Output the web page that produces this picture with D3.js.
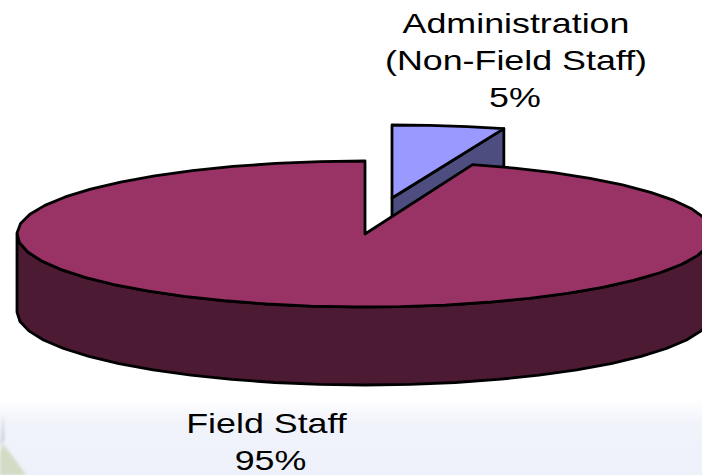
<!DOCTYPE html>
<html>
<head>
<meta charset="utf-8">
<script src="https://cdn.jsdelivr.net/npm/d3@7"></script>
<style>
html, body { margin: 0; padding: 0; background: #fff; }
svg { display: block; }
text { font-family: "Liberation Sans", Arial, sans-serif; font-size: 28px; fill: #000; }
</style>
</head>
<body>
<div id="chart"></div>
<script>
var categories = ['Administration', 'Field Staff'];
var values = [5, 95];
var adminLabel = ['Administration', '(Non-Field Staff)', '5%'];
var fieldLabel = ['Field Staff', '95%'];

var width = 702, height = 475;
var cx = 365, cy = 234, rx = 348, ry = 73, depth = 78;
var explode = { x: 27, y: -36 };
var stroke = 2.8;

var svg = d3.select('#chart').append('svg')
    .attr('width', width)
    .attr('height', height);

var defs = svg.append('defs');
var grad = defs.append('linearGradient')
    .attr('id', 'bg-fade')
    .attr('x1', 0).attr('y1', 0)
    .attr('x2', 0).attr('y2', 1);
grad.append('stop').attr('offset', '0%').attr('stop-color', '#ffffff');
grad.append('stop').attr('offset', '30%').attr('stop-color', '#f1f3fb');
grad.append('stop').attr('offset', '100%').attr('stop-color', '#eef1fa');

defs.append('filter')
    .attr('id', 'soft')
    .append('feGaussianBlur')
    .attr('stdDeviation', 1.5);

svg.append('rect')
    .attr('x', 0).attr('y', 400)
    .attr('width', width).attr('height', 75)
    .attr('fill', 'url(#bg-fade)');

// blurry leaf left over from the slide background
svg.append('path')
    .attr('d', 'M3,414L5,440L0,446Z')
    .attr('fill', '#d4d6dc')
    .attr('filter', 'url(#soft)');
svg.append('path')
    .attr('d', 'M3,444L14,458L26,475L0,475L0,452Z')
    .attr('fill', '#d3dbc4')
    .attr('filter', 'url(#soft)');

var arcs = d3.pie().sort(null)(values);

var line = d3.line();

function rim(a0, a1, c, radiusX) {
    var n = Math.max(1, Math.ceil((a1 - a0) / (Math.PI / 24)));
    return d3.range(n + 1).map(function (i) {
        var a = a0 + (a1 - a0) * i / n;
        return [c[0] + radiusX * Math.sin(a), c[1] - ry * Math.cos(a)];
    });
}

function face(points, color) {
    svg.append('path')
        .attr('d', line(points) + 'Z')
        .attr('fill', color)
        .attr('stroke', '#000')
        .attr('stroke-width', stroke)
        .attr('stroke-linejoin', 'round');
}

function down(points) {
    return points.map(function (p) { return [p[0], p[1] + depth]; }).reverse();
}

// small slice first, the big one is painted over its wall
function drawAdmin(d) {
    var c = [cx + explode.x, cy + explode.y];
    var top = rim(d.startAngle, d.endAngle, c, rx * 1.04);
    var edge = [c, top[top.length - 1]];
    face(edge.concat(down(edge)), '#4d4d80');
    face([c].concat(top), '#9999ff');
}

function drawField(d) {
    var c = [cx, cy];
    var front = rim(Math.PI / 2, Math.PI * 1.5, c, rx);
    face(front.concat(down(front)), '#4d1a33');
    face([c].concat(rim(d.startAngle, d.endAngle, c, rx)), '#993366');
}

drawAdmin(arcs[0]);
drawField(arcs[1]);

// the source text is stretched sideways, the font itself is not
function drawText(str, x, y) {
    svg.append('text')
        .attr('text-anchor', 'middle')
        .attr('transform', 'translate(' + x + ',' + y + ') scale(1.28,1)')
        .text(str);
}

drawText(adminLabel[0], 516, 33);
drawText(adminLabel[1], 516, 70);
drawText(adminLabel[2], 515, 107);
drawText(fieldLabel[0], 266.5, 433);
drawText(fieldLabel[1], 270.5, 470);
</script>
</body>
</html>
